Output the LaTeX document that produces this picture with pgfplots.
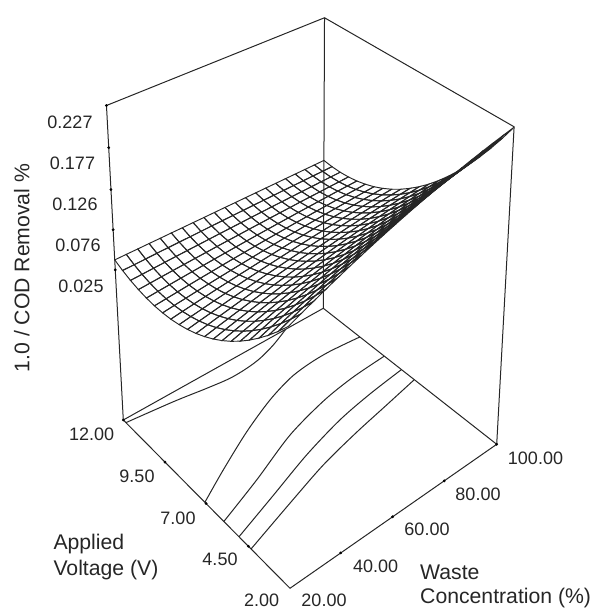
\documentclass[border=0pt]{standalone}
\usepackage{pgfplots}
\usepackage{pgfplotstable}
\usepackage{fontspec}
\setmainfont{Liberation Sans}
\pgfplotsset{compat=1.18}
\tikzset{
 declare function={
  camD(\u,\v,\w)=0.12265*\u+0.13984*\v+1-0.095*\w;
  camX(\u,\v,\w)=(267.62*\u-149.46*\v+290-29.3*\w)/camD(\u,\v,\w);
  camY(\u,\v,\w)=(-89.51*\u-109.57*\v+588.3-368.5*\w)/camD(\u,\v,\w);
  nU(\a)=(\a-20)/80; nV(\a)=(\a-2)/10; nW(\a)=1-(0.227-\a)*2.48;
 }}
\pgfplotsset{
 table/proj/.style={x expr={camX(nU(\thisrow{wc}),nV(\thisrow{V}),nW(\thisrow{z}))},y expr={camY(nU(\thisrow{wc}),nV(\thisrow{V}),nW(\thisrow{z}))},z expr=0},
}
\pgfplotstableread{
wc V z
20 2 0.1368
24 2 0.1430
28 2 0.1490
32 2 0.1548
36 2 0.1604
40 2 0.1659
44 2 0.1711
48 2 0.1763
52 2 0.1812
56 2 0.1859
60 2 0.1905
64 2 0.1949
68 2 0.1991
72 2 0.2032
76 2 0.2070
80 2 0.2107
84 2 0.2142
88 2 0.2176
92 2 0.2207
96 2 0.2237
100 2 0.2265
20 2.5 0.1220
24 2.5 0.1278
28 2.5 0.1335
32 2.5 0.1390
36 2.5 0.1443
40 2.5 0.1494
44 2.5 0.1544
48 2.5 0.1592
52 2.5 0.1638
56 2.5 0.1683
60 2.5 0.1726
64 2.5 0.1768
68 2.5 0.1807
72 2.5 0.1845
76 2.5 0.1882
80 2.5 0.1916
84 2.5 0.1949
88 2.5 0.1981
92 2.5 0.2010
96 2.5 0.2038
100 2.5 0.2064
20 3 0.1082
24 3 0.1137
28 3 0.1190
32 3 0.1242
36 3 0.1292
40 3 0.1340
44 3 0.1387
48 3 0.1432
52 3 0.1476
56 3 0.1518
60 3 0.1558
64 3 0.1597
68 3 0.1635
72 3 0.1670
76 3 0.1704
80 3 0.1737
84 3 0.1768
88 3 0.1797
92 3 0.1825
96 3 0.1851
100 3 0.1875
20 3.5 0.0955
24 3.5 0.1006
28 3.5 0.1056
32 3.5 0.1105
36 3.5 0.1151
40 3.5 0.1197
44 3.5 0.1241
48 3.5 0.1283
52 3.5 0.1324
56 3.5 0.1363
60 3.5 0.1401
64 3.5 0.1437
68 3.5 0.1472
72 3.5 0.1506
76 3.5 0.1537
80 3.5 0.1568
84 3.5 0.1597
88 3.5 0.1624
92 3.5 0.1650
96 3.5 0.1674
100 3.5 0.1697
20 4 0.0838
24 4 0.0886
28 4 0.0933
32 4 0.0978
36 4 0.1022
40 4 0.1064
44 4 0.1105
48 4 0.1145
52 4 0.1183
56 4 0.1219
60 4 0.1255
64 4 0.1289
68 4 0.1321
72 4 0.1352
76 4 0.1382
80 4 0.1410
84 4 0.1437
88 4 0.1462
92 4 0.1486
96 4 0.1509
100 4 0.1530
20 4.5 0.0731
24 4.5 0.0776
28 4.5 0.0820
32 4.5 0.0862
36 4.5 0.0902
40 4.5 0.0942
44 4.5 0.0980
48 4.5 0.1017
52 4.5 0.1052
56 4.5 0.1086
60 4.5 0.1119
64 4.5 0.1150
68 4.5 0.1180
72 4.5 0.1209
76 4.5 0.1237
80 4.5 0.1263
84 4.5 0.1288
88 4.5 0.1311
92 4.5 0.1333
96 4.5 0.1354
100 4.5 0.1374
20 5 0.0635
24 5 0.0677
28 5 0.0717
32 5 0.0756
36 5 0.0794
40 5 0.0830
44 5 0.0865
48 5 0.0899
52 5 0.0932
56 5 0.0964
60 5 0.0994
64 5 0.1023
68 5 0.1051
72 5 0.1077
76 5 0.1103
80 5 0.1127
84 5 0.1150
88 5 0.1171
92 5 0.1192
96 5 0.1211
100 5 0.1229
20 5.5 0.0549
24 5.5 0.0588
28 5.5 0.0625
32 5.5 0.0661
36 5.5 0.0695
40 5.5 0.0729
44 5.5 0.0761
48 5.5 0.0793
52 5.5 0.0823
56 5.5 0.0852
60 5.5 0.0880
64 5.5 0.0907
68 5.5 0.0932
72 5.5 0.0956
76 5.5 0.0980
80 5.5 0.1002
84 5.5 0.1023
88 5.5 0.1042
92 5.5 0.1061
96 5.5 0.1079
100 5.5 0.1095
20 6 0.0474
24 6 0.0509
28 6 0.0543
32 6 0.0576
36 6 0.0608
40 6 0.0638
44 6 0.0668
48 6 0.0697
52 6 0.0724
56 6 0.0751
60 6 0.0776
64 6 0.0801
68 6 0.0824
72 6 0.0846
76 6 0.0868
80 6 0.0888
84 6 0.0907
88 6 0.0925
92 6 0.0942
96 6 0.0958
100 6 0.0972
20 6.5 0.0409
24 6.5 0.0441
28 6.5 0.0472
32 6.5 0.0502
36 6.5 0.0531
40 6.5 0.0558
44 6.5 0.0585
48 6.5 0.0611
52 6.5 0.0636
56 6.5 0.0661
60 6.5 0.0684
64 6.5 0.0706
68 6.5 0.0727
72 6.5 0.0747
76 6.5 0.0766
80 6.5 0.0784
84 6.5 0.0802
88 6.5 0.0818
92 6.5 0.0833
96 6.5 0.0848
100 6.5 0.0861
20 7 0.0354
24 7 0.0383
28 7 0.0411
32 7 0.0438
36 7 0.0464
40 7 0.0489
44 7 0.0513
48 7 0.0537
52 7 0.0559
56 7 0.0581
60 7 0.0602
64 7 0.0622
68 7 0.0641
72 7 0.0659
76 7 0.0676
80 7 0.0692
84 7 0.0708
88 7 0.0722
92 7 0.0736
96 7 0.0749
100 7 0.0761
20 7.5 0.0310
24 7.5 0.0336
28 7.5 0.0360
32 7.5 0.0384
36 7.5 0.0408
40 7.5 0.0430
44 7.5 0.0452
48 7.5 0.0473
52 7.5 0.0493
56 7.5 0.0512
60 7.5 0.0530
64 7.5 0.0548
68 7.5 0.0565
72 7.5 0.0581
76 7.5 0.0596
80 7.5 0.0611
84 7.5 0.0625
88 7.5 0.0637
92 7.5 0.0649
96 7.5 0.0661
100 7.5 0.0671
20 8 0.0276
24 8 0.0299
28 8 0.0320
32 8 0.0342
36 8 0.0362
40 8 0.0382
44 8 0.0401
48 8 0.0419
52 8 0.0437
56 8 0.0454
60 8 0.0470
64 8 0.0486
68 8 0.0500
72 8 0.0514
76 8 0.0528
80 8 0.0541
84 8 0.0552
88 8 0.0564
92 8 0.0574
96 8 0.0584
100 8 0.0593
20 8.5 0.0252
24 8.5 0.0272
28 8.5 0.0291
32 8.5 0.0309
36 8.5 0.0327
40 8.5 0.0344
44 8.5 0.0361
48 8.5 0.0376
52 8.5 0.0392
56 8.5 0.0406
60 8.5 0.0420
64 8.5 0.0434
68 8.5 0.0446
72 8.5 0.0459
76 8.5 0.0470
80 8.5 0.0481
84 8.5 0.0491
88 8.5 0.0501
92 8.5 0.0510
96 8.5 0.0518
100 8.5 0.0526
20 9 0.0239
24 9 0.0256
28 9 0.0272
32 9 0.0288
36 9 0.0303
40 9 0.0317
44 9 0.0331
48 9 0.0344
52 9 0.0357
56 9 0.0370
60 9 0.0381
64 9 0.0393
68 9 0.0403
72 9 0.0414
76 9 0.0423
80 9 0.0433
84 9 0.0441
88 9 0.0449
92 9 0.0457
96 9 0.0464
100 9 0.0470
20 9.5 0.0236
24 9.5 0.0250
28 9.5 0.0263
32 9.5 0.0276
36 9.5 0.0288
40 9.5 0.0300
44 9.5 0.0312
48 9.5 0.0323
52 9.5 0.0333
56 9.5 0.0343
60 9.5 0.0353
64 9.5 0.0362
68 9.5 0.0371
72 9.5 0.0380
76 9.5 0.0387
80 9.5 0.0395
84 9.5 0.0402
88 9.5 0.0409
92 9.5 0.0415
96 9.5 0.0420
100 9.5 0.0426
20 10 0.0244
24 10 0.0255
28 10 0.0265
32 10 0.0275
36 10 0.0285
40 10 0.0294
44 10 0.0303
48 10 0.0312
52 10 0.0320
56 10 0.0328
60 10 0.0336
64 10 0.0343
68 10 0.0350
72 10 0.0356
76 10 0.0363
80 10 0.0368
84 10 0.0374
88 10 0.0379
92 10 0.0384
96 10 0.0388
100 10 0.0392
20 10.5 0.0262
24 10.5 0.0270
28 10.5 0.0278
32 10.5 0.0285
36 10.5 0.0292
40 10.5 0.0299
44 10.5 0.0305
48 10.5 0.0312
52 10.5 0.0318
56 10.5 0.0323
60 10.5 0.0329
64 10.5 0.0334
68 10.5 0.0339
72 10.5 0.0344
76 10.5 0.0348
80 10.5 0.0353
84 10.5 0.0357
88 10.5 0.0360
92 10.5 0.0364
96 10.5 0.0367
100 10.5 0.0370
20 11 0.0290
24 11 0.0295
28 11 0.0300
32 11 0.0305
36 11 0.0310
40 11 0.0314
44 11 0.0318
48 11 0.0322
52 11 0.0326
56 11 0.0330
60 11 0.0333
64 11 0.0337
68 11 0.0340
72 11 0.0343
76 11 0.0345
80 11 0.0348
84 11 0.0350
88 11 0.0353
92 11 0.0355
96 11 0.0357
100 11 0.0358
20 11.5 0.0329
24 11.5 0.0331
28 11.5 0.0333
32 11.5 0.0336
36 11.5 0.0338
40 11.5 0.0340
44 11.5 0.0341
48 11.5 0.0343
52 11.5 0.0345
56 11.5 0.0346
60 11.5 0.0348
64 11.5 0.0349
68 11.5 0.0351
72 11.5 0.0352
76 11.5 0.0353
80 11.5 0.0354
84 11.5 0.0355
88 11.5 0.0356
92 11.5 0.0357
96 11.5 0.0357
100 11.5 0.0358
20 12 0.0378
24 12 0.0378
28 12 0.0377
32 12 0.0377
36 12 0.0376
40 12 0.0376
44 12 0.0375
48 12 0.0375
52 12 0.0374
56 12 0.0374
60 12 0.0374
64 12 0.0373
68 12 0.0373
72 12 0.0372
76 12 0.0372
80 12 0.0371
84 12 0.0371
88 12 0.0370
92 12 0.0370
96 12 0.0369
100 12 0.0369
}\Surface
\pgfplotstableread{
wc V z
20 11.82 -0.1762
36.1 11.57 -0.1762
47.5 11.33 -0.1762
55.7 11.19 -0.1762
62.5 11.21 -0.1762
68.6 11.32 -0.1762
75.8 11.59 -0.1762
83.7 12 -0.1762
}\Ca
\pgfplotstableread{
wc V z
20 6.78 -0.1762
31.3 7.57 -0.1762
45.8 8.51 -0.1762
59.5 9.25 -0.1762
70.7 9.68 -0.1762
79.5 9.82 -0.1762
87.9 9.83 -0.1762
100 9.69 -0.1762
}\Cb
\pgfplotstableread{
wc V z
20 5.66 -0.1762
36.4 6.41 -0.1762
54.9 7.33 -0.1762
72.1 7.88 -0.1762
85.9 8.12 -0.1762
100 8.21 -0.1762
}\Cc
\pgfplotstableread{
wc V z
20 4.79 -0.1762
36.2 5.45 -0.1762
53.7 6.17 -0.1762
70.5 6.71 -0.1762
85 7.0 -0.1762
100 7.2 -0.1762
}\Cd
\pgfplotstableread{
wc V z
20 4.11 -0.1762
38.3 4.80 -0.1762
54.9 5.40 -0.1762
70.8 5.82 -0.1762
85.5 6.14 -0.1762
100 6.46 -0.1762
}\Ce
\pgfplotstableread{
wc V z
20 12 -0.1762
20 12 0.227
100 12 0.227
100 2 0.227
100 2 -0.1762
100 12 -0.1762
100 12 0.227
}\BoxA
\pgfplotstableread{
wc V z
20 12 -0.1762
100 12 -0.1762
}\BoxB
\pgfplotstableread{
wc V z
20 12 -0.1762
20 2 -0.1762
100 2 -0.1762
}\BoxC
\pgfplotstableread{
wc V z
20 12 0.227
20 12 0.177
20 12 0.126
20 12 0.076
20 12 0.025
20 12 -0.1762
20 9.245 -0.1762
20 6.71 -0.1762
20 4.26 -0.1762
37.96 2 -0.1762
57.4 2 -0.1762
77.9 2 -0.1762
100 2 -0.1762
}\Ticks
\begin{document}
\begin{tikzpicture}
\begin{axis}[at={(0,0)},anchor=south west,width=594pt,height=609pt,scale only axis,view={0}{90},xmin=0,xmax=594,ymin=0,ymax=609,zmin=-1,zmax=1,y dir=reverse,hide axis,clip=false]
\addplot3[mesh,mesh/rows=21,point meta=0,colormap={k}{color(0cm)=(black!85) color(1cm)=(black!85)},line width=0.95pt] table[proj] {\Surface};
\addplot3[black!85,line width=1pt] table[proj] {\BoxA};
\addplot3[black!85,line width=1pt] table[proj] {\BoxB};
\addplot3[black!85,line width=1pt] table[proj] {\BoxC};
\addplot3[only marks,mark=*,mark size=1.2pt,black] table[proj] {\Ticks};
\addplot3[black!85,line width=1pt,smooth] table[proj] {\Ca};
\addplot3[black!85,line width=1pt,smooth] table[proj] {\Cb};
\addplot3[black!85,line width=1pt,smooth] table[proj] {\Cc};
\addplot3[black!85,line width=1pt,smooth] table[proj] {\Cd};
\addplot3[black!85,line width=1pt,smooth] table[proj] {\Ce};
\tikzset{num/.style={font=\fontsize{18}{18}\selectfont,text=black!85,inner sep=0pt},ttl/.style={font=\fontsize{21.2}{21.2}\selectfont,text=black!85,inner sep=0pt,anchor=base west}}
\node[num] at (axis cs:70,122.5,0) {0.227};
\node[num] at (axis cs:72.5,163,0) {0.177};
\node[num] at (axis cs:75,204,0) {0.126};
\node[num] at (axis cs:78,245,0) {0.076};
\node[num] at (axis cs:81,286,0) {0.025};
\node[num] at (axis cs:91.7,434.5,0) {12.00};
\node[num] at (axis cs:137,476.5,0) {9.50};
\node[num] at (axis cs:178,518,0) {7.00};
\node[num] at (axis cs:220,559.5,0) {4.50};
\node[num] at (axis cs:261.7,600.5,0) {2.00};
\node[num] at (axis cs:324,600.5,0) {20.00};
\node[num] at (axis cs:375.7,566,0) {40.00};
\node[num] at (axis cs:427,529.3,0) {60.00};
\node[num] at (axis cs:478,494,0) {80.00};
\node[num] at (axis cs:535.5,458.3,0) {100.00};
\node[ttl] at (axis cs:420,579,0) {Waste};
\node[ttl] at (axis cs:420,603.5,0) {Concentration (\%)};
\node[ttl] at (axis cs:53.3,549.3,0) {Applied};
\node[ttl] at (axis cs:53.3,575,0) {Voltage (V)};
\node[ttl,anchor=base,rotate=90] at (axis cs:29.3,268,0) {1.0 / COD Removal \%};
\end{axis}
\pgfresetboundingbox
\useasboundingbox (0,0) rectangle (594pt,609pt);
\end{tikzpicture}
\end{document}
